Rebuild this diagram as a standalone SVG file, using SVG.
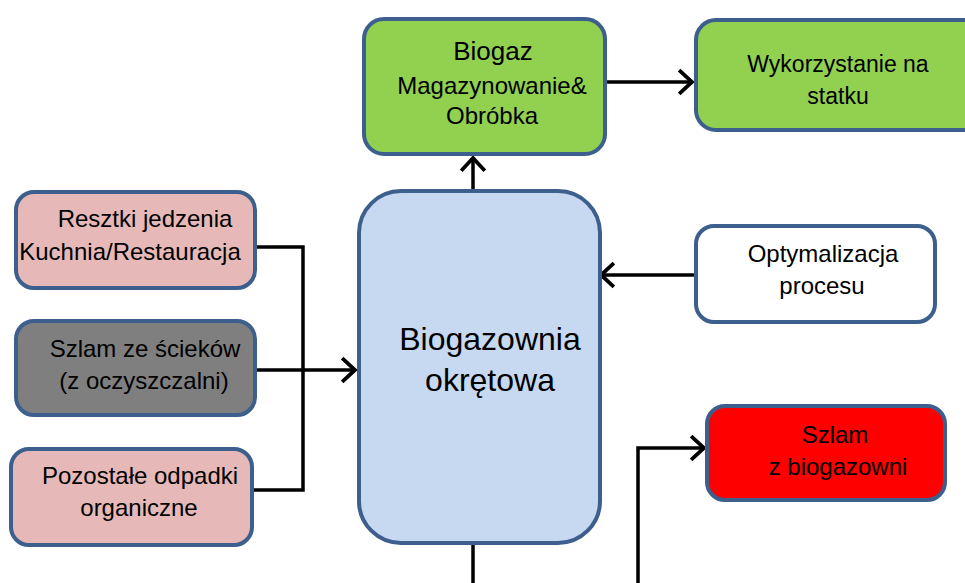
<svg xmlns="http://www.w3.org/2000/svg" width="965" height="583" viewBox="0 0 965 583">
<style>
.box{stroke:#3d5f8d;stroke-width:4}
.t{font-family:"Liberation Sans",Arial,sans-serif;font-size:24px;fill:#000;text-anchor:middle}
.c{fill:none;stroke:#000;stroke-width:3.5}
</style>
<defs>
<marker id="arr" markerUnits="userSpaceOnUse" markerWidth="30" markerHeight="30" viewBox="-16 -14 20 28" refX="0" refY="0" orient="auto">
<path d="M-12,-11 L0,0 L-12,11" fill="none" stroke="#000" stroke-width="3.5"/>
</marker>
</defs>
<rect width="965" height="583" fill="#fff"/>
<g id="connectors">
<path class="c" d="M473,190 V158" marker-end="url(#arr)"/>
<path class="c" d="M605,82 H692" marker-end="url(#arr)"/>
<path class="c" d="M695,275 H601" marker-end="url(#arr)"/>
<path class="c" d="M256,247 H303 V490 H253"/>
<path class="c" d="M256,370 H355" marker-end="url(#arr)"/>
<path class="c" d="M473,543 V590 H638 V448 H704" marker-end="url(#arr)"/>
</g>
<g id="biogaz">
<rect class="box" x="364" y="19" width="241" height="135" rx="20" fill="#92d050"/>
<text class="t" x="493" y="60" style="font-size:26px">Biogaz</text>
<text class="t" x="492" y="94">Magazynowanie&amp;</text>
<text class="t" x="492" y="124">Obróbka</text>
</g>
<g id="wykorzystanie">
<rect class="box" x="696" y="20" width="290" height="110" rx="20" fill="#92d050"/>
<text class="t" x="838" y="72" style="font-size:23px">Wykorzystanie na</text>
<text class="t" x="838" y="104" style="font-size:23px">statku</text>
</g>
<g id="biogazownia">
<rect class="box" x="359" y="191" width="241" height="352" rx="42" fill="#c6d9f1"/>
<text class="t" x="490" y="350" style="font-size:32px">Biogazownia</text>
<text class="t" x="490" y="391" style="font-size:32px">okrętowa</text>
</g>
<g id="resztki">
<rect class="box" x="16" y="192" width="239" height="96" rx="18" fill="#e6b9b8"/>
<text class="t" x="145" y="227">Resztki jedzenia</text>
<text class="t" x="130" y="260">Kuchnia/Restauracja</text>
</g>
<g id="szlam-sciekow">
<rect class="box" x="16" y="321" width="239" height="94" rx="18" fill="#7f7f7f"/>
<text class="t" x="145" y="357">Szlam ze ścieków</text>
<text class="t" x="144" y="389">(z oczyszczalni)</text>
</g>
<g id="pozostale">
<rect class="box" x="11" y="449" width="241" height="96" rx="18" fill="#e6b9b8"/>
<text class="t" x="140" y="484">Pozostałe odpadki</text>
<text class="t" x="139" y="516">organiczne</text>
</g>
<g id="optymalizacja">
<rect class="box" x="696" y="226" width="239" height="96" rx="18" fill="#fff"/>
<text class="t" x="823" y="262">Optymalizacja</text>
<text class="t" x="822" y="294">procesu</text>
</g>
<g id="szlam-biogazowni">
<rect class="box" x="707" y="406" width="238" height="94" rx="18" fill="#ff0000"/>
<text class="t" x="835" y="443">Szlam</text>
<text class="t" x="838" y="475">z biogazowni</text>
</g>
</svg>
